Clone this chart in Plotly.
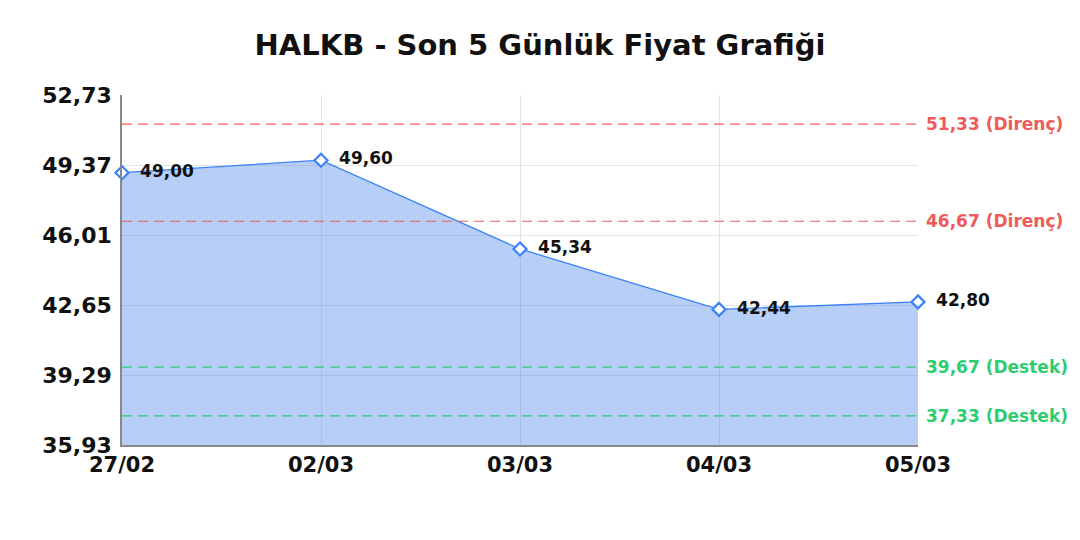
import plotly.graph_objects as go

# data
dates = ["27/02", "02/03", "03/03", "04/03", "05/03"]
prices = [49.00, 49.60, 45.34, 42.44, 42.80]
resistance = [51.33, 46.67]
support = [39.67, 37.33]
y_ticks = [35.93, 39.29, 42.65, 46.01, 49.37, 52.73]

FONT = "DejaVu Sans"
BLUE = "#3b82f6"
RED = "#f05a5a"
GREEN = "#2ecc71"
DASH = "10px,6px"


def tr(v: float) -> str:
    return f"{v:.2f}".replace(".", ",")


fig = go.Figure()
fig.add_trace(
    go.Scatter(
        x=dates,
        y=prices,
        mode="lines+markers+text",
        fill="tozeroy",
        fillcolor="rgba(74,134,232,0.40)",
        line=dict(color=BLUE, width=1.3),
        marker=dict(symbol="diamond", size=10, color="white", line=dict(width=2.2, color=BLUE)),
        text=["  <b>" + tr(p) + "</b>" for p in prices],
        textposition="middle right",
        textfont=dict(family=FONT, size=17, color="#111"),
        cliponaxis=False,
        showlegend=False,
        hoverinfo="skip",
    )
)

for level in resistance:
    fig.add_hline(y=level, line=dict(color=RED, width=1.2, dash=DASH))
    fig.add_annotation(
        x=1, xref="paper", y=level, yref="y", xanchor="left", xshift=6,
        text=f"<b>{tr(level)} (Direnç)</b>", showarrow=False,
        font=dict(family=FONT, size=17, color=RED),
    )
for level in support:
    fig.add_hline(y=level, line=dict(color=GREEN, width=1.2, dash=DASH))
    fig.add_annotation(
        x=1, xref="paper", y=level, yref="y", xanchor="left", xshift=6,
        text=f"<b>{tr(level)} (Destek)</b>", showarrow=False,
        font=dict(family=FONT, size=17, color=GREEN),
    )

fig.update_xaxes(
    type="category",
    range=[0, len(dates) - 1],
    showgrid=True,
    gridcolor="rgba(180,180,180,0.35)",
    showline=True,
    linecolor="#888",
    linewidth=1.5,
    ticks="",
    tickfont=dict(family=FONT, size=21, color="#111"),
    tickprefix="<b>",
    ticksuffix="</b>",
)
fig.update_yaxes(
    range=[y_ticks[0], y_ticks[-1]],
    tickvals=y_ticks,
    ticktext=[f"<b>{tr(v)}</b>" for v in y_ticks],
    showgrid=True,
    gridcolor="rgba(180,180,180,0.35)",
    zeroline=False,
    showline=True,
    linecolor="#888",
    linewidth=1.5,
    ticks="",
    ticklabelstandoff=4,
    tickfont=dict(family=FONT, size=22, color="#111"),
)
fig.update_layout(
    width=1064,
    height=524,
    margin=dict(l=114, r=154, t=87, b=87),
    paper_bgcolor="white",
    plot_bgcolor="white",
    title=dict(
        text="<b>HALKB - Son 5 Günlük Fiyat Grafiği</b>",
        x=0.5,
        xanchor="center",
        yref="container",
        y=0.93,
        yanchor="middle",
        font=dict(family=FONT, size=29, color="#111"),
    ),
)

fig.write_html("out.html")
